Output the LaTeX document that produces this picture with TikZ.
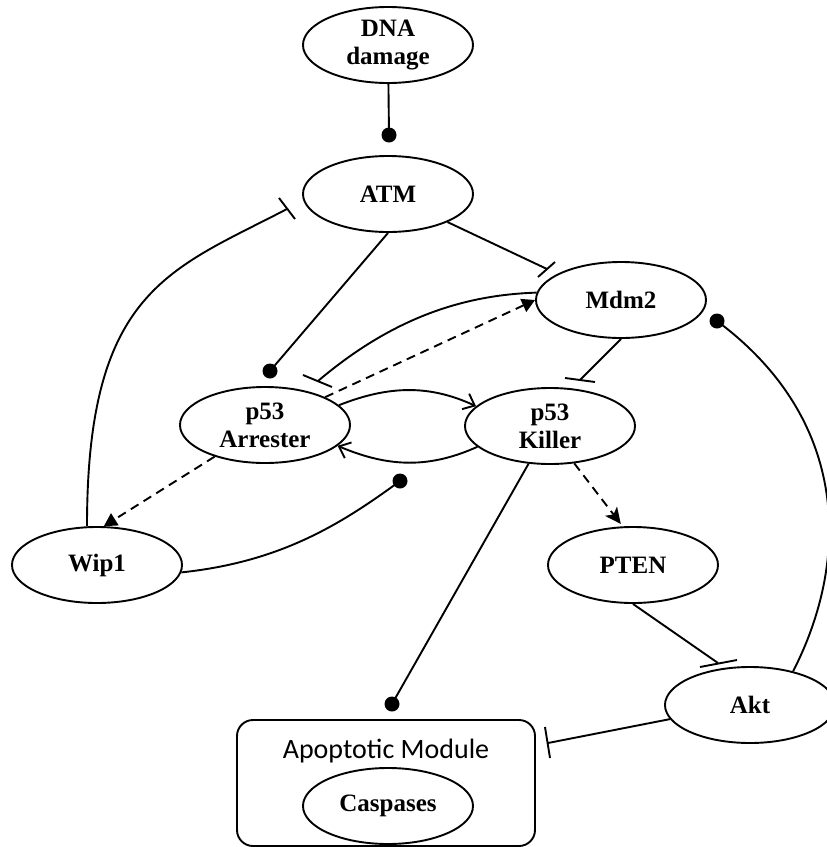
\documentclass[tikz,border=0pt]{standalone}
\usepackage{fontspec}
\setmainfont{Liberation Serif}
\newfontfamily\calibfont{Carlito}
\usetikzlibrary{shapes.geometric,arrows.meta,calc}
\begin{document}
\begin{tikzpicture}[x=1pt,y=-1pt,
  ent/.style={ellipse,draw,line width=1.9pt,minimum width=170pt,minimum height=76pt,inner sep=0pt,
    font=\fontsize{25}{28}\selectfont\bfseries,align=center},
  link/.style={line width=1.9pt},
  dlink/.style={line width=1.9pt,dash pattern=on 9pt off 6pt},
  tri/.style={-{Triangle[length=13pt,width=14pt]}},
  stl/.style={-{Stealth[length=16pt,width=15pt,inset=4pt]}},
  barb/.style={-{Straight Barb[length=10pt,width=17pt]}},
  modbox/.style={draw,rounded corners=16pt,line width=1.9pt,minimum width=298pt,minimum height=126pt,inner sep=0pt},
  modlabel/.style={font=\calibfont\fontsize{28}{32}\selectfont,anchor=base,inner sep=0pt}
]
\useasboundingbox (0,0) rectangle (827,847);

% nodes
\node[ent] (DNA)  at (388,45)  {\raisebox{-3pt}{DNA}\\\raisebox{-3pt}{damage}};
\node[ent] (ATM)  at (388,194) {ATM};
\node[ent] (Mdm2) at (621,300) {Mdm2};
\node[ent] (Arr)  at (265,425) {p53\\Arrester};
\node[ent] (Kil)  at (550,426) {p53\\Killer};
\node[ent] (Wip)  at (97,565)  {Wip1};
\node[ent] (PTEN) at (633,565) {PTEN};
\node[ent] (Akt)  at (750,705) {Akt};
\node[modbox] (Apo) at (386,783) {};
\node[modlabel] (ApoLbl) at (386,758) {Apoptotic Module};
\node[ent] (Casp) at (388,806) {Caspases};

% ball ends
\coordinate (ballA) at (389,135);
\coordinate (ballB) at (270,371);
\coordinate (ballC) at (392,704);
\coordinate (ballD) at (717,321);
\coordinate (ballE) at (400,481);

% bar ends
\coordinate (barM1) at (538,277); \coordinate (barM2) at (555,262); \coordinate (barMc) at (547,269);
\coordinate (barW1) at (279,198); \coordinate (barW2) at (295,219); \coordinate (barWc) at (287,209);
\coordinate (barA1) at (303,375); \coordinate (barA2) at (332,387); \coordinate (barAc) at (318,381);
\coordinate (barK1) at (565,378); \coordinate (barK2) at (595,382); \coordinate (barKc) at (580,380);
\coordinate (barT1) at (700,667); \coordinate (barT2) at (737,660); \coordinate (barTc) at (718,663);
\coordinate (barP1) at (545,727); \coordinate (barP2) at (550,758); \coordinate (barPc) at (548,743);

% activation (ball) links
\draw[link] (DNA) -- (ballA);
\draw[link] (ATM.south) -- (ballB);
\draw[link] (Kil) -- (ballC);
\draw[link] (Akt.38) .. controls (850,560) and (850,420) .. (ballD);
\draw[link] (Wip.-5) .. controls (280,562) and (340,525) .. (ballE);
\foreach \b in {ballA,ballB,ballC,ballD,ballE} \fill (\b) circle[radius=7.5pt];

% inhibition links
\draw[link] (ATM) -- (barMc);
\draw[link] ([xshift=-10pt]Wip.north) .. controls (87,290) and (170,270) .. (barWc);
\draw[link] (Mdm2.175) .. controls (460,295) and (390,320) .. (barAc);
\draw[link] (Mdm2.south) -- (barKc);
\draw[link] (PTEN.south) -- (barTc);
\draw[link] (Akt.190) -- (barPc);
\draw[link] (barM1) -- (barM2);
\draw[link] (barW1) -- (barW2);
\draw[link] (barA1) -- (barA2);
\draw[link] (barK1) -- (barK2);
\draw[link] (barT1) -- (barT2);
\draw[link] (barP1) -- (barP2);

% dashed arrows
\draw[dlink,tri] (Arr) -- (Mdm2.west);
\draw[dlink,tri] (Arr) -- (Wip.80);
\draw[dlink,stl,shorten >=3pt] (Kil.-57) -- (PTEN.105);

% solid arrows between p53 forms
\draw[link,barb] (Arr.15) .. controls (390,385) and (430,385) .. (Kil.165);
\draw[link,barb] (Kil.196) .. controls (430,468) and (390,468) .. (Arr.344);
\end{tikzpicture}
\end{document}
